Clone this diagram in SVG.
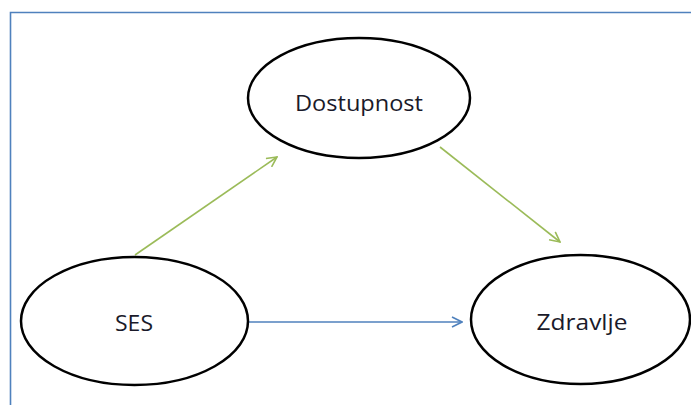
<svg xmlns="http://www.w3.org/2000/svg" width="691" height="405" viewBox="0 0 691 405">
<style>
.node ellipse{fill:#fff;stroke:#000;stroke-width:2.5}
.node text{font-family:"Open Sans","Liberation Sans",sans-serif;font-size:21px;fill:#1a1a2a;text-anchor:middle;dominant-baseline:central}
.g{stroke:#9bbb59;stroke-width:1.6;fill:none}
.b{stroke:#4f81bd;stroke-width:1.6;fill:none}
</style>
<defs>
<marker id="ag" viewBox="0 0 12 12" refX="11" refY="6" markerWidth="12" markerHeight="12" markerUnits="userSpaceOnUse" orient="auto">
<path d="M1,1 L11,6 L1,11" fill="none" stroke="#9bbb59" stroke-width="1.6"/>
</marker>
<marker id="ab" viewBox="0 0 12 12" refX="11" refY="6" markerWidth="12" markerHeight="12" markerUnits="userSpaceOnUse" orient="auto">
<path d="M1,1 L11,6 L1,11" fill="none" stroke="#4f81bd" stroke-width="1.6"/>
</marker>
</defs>
<rect width="691" height="405" fill="#fff"/>
<path d="M10.5,405 V12.5 H691" fill="none" stroke="#4f81bd" stroke-width="1.6"/>
<g id="connectors">
<line class="g" x1="135" y1="255" x2="277" y2="157" marker-end="url(#ag)"/>
<line class="g" x1="440" y1="147" x2="560" y2="242" marker-end="url(#ag)"/>
<line class="b" x1="248" y1="322" x2="462" y2="322" marker-end="url(#ab)"/>
</g>
<g id="dostupnost" class="node">
<ellipse cx="359" cy="98" rx="111" ry="60"/>
<text x="359" y="103" textLength="128" lengthAdjust="spacingAndGlyphs">Dostupnost</text>
</g>
<g id="ses" class="node">
<ellipse cx="134.5" cy="321" rx="113.5" ry="64"/>
<text x="134" y="323" textLength="38" lengthAdjust="spacingAndGlyphs">SES</text>
</g>
<g id="zdravlje" class="node">
<ellipse cx="580.5" cy="319.5" rx="109.5" ry="64.5"/>
<text x="582" y="322" textLength="91" lengthAdjust="spacingAndGlyphs">Zdravlje</text>
</g>
</svg>
